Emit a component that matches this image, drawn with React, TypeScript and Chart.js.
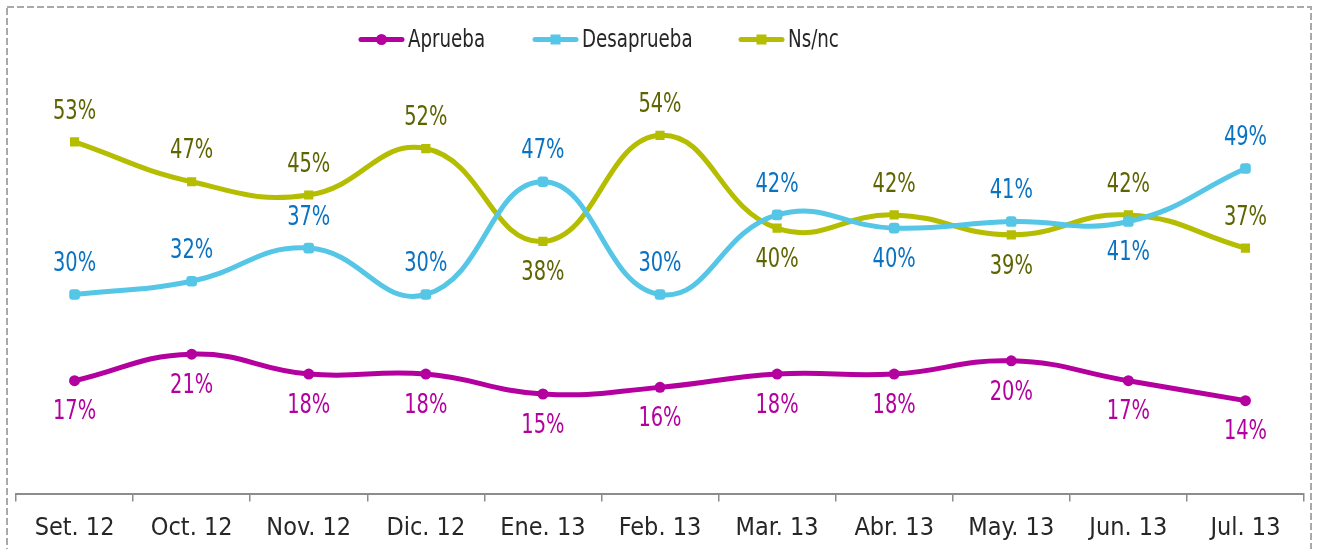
import React, { useEffect, useRef } from "react";
import { Chart, registerables } from "chart.js";

Chart.register(...registerables);

const categories = ["Set. 12", "Oct. 12", "Nov. 12", "Dic. 12", "Ene. 13", "Feb. 13", "Mar. 13", "Abr. 13", "May. 13", "Jun. 13", "Jul. 13"];
const aprueba = [17, 21, 18, 18, 15, 16, 18, 18, 20, 17, 14];
const desaprueba = [30, 32, 37, 30, 47, 30, 42, 40, 41, 41, 49];
const nsnc = [53, 47, 45, 52, 38, 54, 40, 42, 39, 42, 37];
const apruebaLabelPos = ["below", "below", "below", "below", "below", "below", "below", "below", "below", "below", "below"];
const desapruebaLabelPos = ["above", "above", "above", "above", "above", "above", "above", "below", "above", "below", "above"];
const nsncLabelPos = ["above", "above", "above", "above", "below", "above", "below", "above", "below", "above", "above"];
const seriesNames = ["Aprueba", "Desaprueba", "Ns/nc"];

const lineColors = ["#B3009E", "#55C6E6", "#B5BD00"];
const labelColors = ["#B3009E", "#0A72C2", "#5E6400"];
const pointStyles = ["circle", "rectRounded", "rect"];
const pointRadii = [5.5, 6.2, 6.5];
const labelPositions = [apruebaLabelPos, desapruebaLabelPos, nsncLabelPos];

const COND = "'DejaVu Sans Condensed', 'DejaVu Sans', sans-serif";

function narrowText(ctx: any, text: string, x: number, y: number, align: string, sx: number) {
  ctx.save();
  ctx.translate(x, y);
  ctx.scale(sx, 1);
  ctx.textAlign = align;
  ctx.fillText(text, 0, 0);
  ctx.restore();
}

const borderPlugin = {
  id: "dashedBorder",
  beforeDraw(chart: any) {
    const ctx = chart.ctx;
    ctx.save();
    ctx.fillStyle = "#ffffff";
    ctx.fillRect(0, 0, chart.width, chart.height);
    ctx.strokeStyle = "#A9A9A9";
    ctx.lineWidth = 2;
    ctx.setLineDash([7, 3]);
    ctx.strokeRect(7, 7, 1304, 560);
    ctx.restore();
  },
};

const legendPlugin = {
  id: "lineLegend",
  afterDraw(chart: any) {
    const ctx = chart.ctx;
    const starts = [359, 533, 739];
    const y = 39.5;
    ctx.save();
    chart.data.datasets.forEach((ds: any, i: number) => {
      const x0 = starts[i];
      ctx.strokeStyle = ds.borderColor;
      ctx.lineWidth = 5;
      ctx.lineCap = "round";
      ctx.setLineDash([]);
      ctx.beginPath();
      ctx.moveTo(x0 + 2, y);
      ctx.lineTo(x0 + 43, y);
      ctx.stroke();
      ctx.fillStyle = ds.borderColor;
      ctx.beginPath();
      if (i === 0) {
        ctx.arc(x0 + 22.5, y, 5.5, 0, Math.PI * 2);
      } else {
        ctx.rect(x0 + 22.5 - 5, y - 5, 10, 10);
      }
      ctx.fill();
      ctx.fillStyle = "#262626";
      ctx.font = `24px ${COND}`;
      ctx.textBaseline = "middle";
      narrowText(ctx, ds.label, x0 + 49, y + 1, "left", 0.845);
    });
    ctx.restore();
  },
};

const dataLabelPlugin = {
  id: "valueLabels",
  afterDatasetsDraw(chart: any) {
    const ctx = chart.ctx;
    ctx.save();
    ctx.font = `26px ${COND}`;
    ctx.textBaseline = "middle";
    chart.data.datasets.forEach((ds: any, i: number) => {
      const meta = chart.getDatasetMeta(i);
      meta.data.forEach((pt: any, j: number) => {
        const pos = labelPositions[i][j];
        const dy = pos === "above" ? -30 : 32;
        ctx.fillStyle = labelColors[i];
        narrowText(ctx, `${ds.data[j]}%`, pt.x, pt.y + dy, "center", 0.83);
      });
    });
    ctx.restore();
  },
};

export default function App() {
  const ref = useRef<HTMLCanvasElement | null>(null);
  useEffect(() => {
    if (!ref.current) return;
    const series = [aprueba, desaprueba, nsnc];
    const chart = new Chart(ref.current, {
      type: "line",
      data: {
        labels: categories,
        datasets: series.map((d, i) => ({
          label: seriesNames[i],
          data: d,
          borderColor: lineColors[i],
          backgroundColor: lineColors[i],
          borderWidth: 5,
          tension: 0.45,
          pointStyle: pointStyles[i] as any,
          pointRadius: pointRadii[i],
          pointBorderWidth: 0,
          pointBackgroundColor: lineColors[i],
          fill: false,
        })),
      },
      options: {
        responsive: false,
        animation: false,
        layout: { padding: { left: 16, right: 14, top: 95.5, bottom: 0 } },
        plugins: {
          legend: { display: false },
          tooltip: { enabled: false },
        },
        scales: {
          x: {
            type: "category",
            offset: true,
            afterFit: (s: any) => {
              s.height = 55.5;
            },
            grid: {
              offset: true,
              drawOnChartArea: false,
              drawTicks: true,
              tickLength: 8,
              color: "#8C8C8C",
              lineWidth: 1.5,
            },
            border: { display: true, color: "#8C8C8C", width: 2 },
            ticks: {
              color: "#262626",
              font: { size: 25, family: COND },
              padding: 12,
              maxRotation: 0,
              autoSkip: false,
            },
          },
          y: {
            display: false,
            min: 0,
            max: 60,
          },
        },
      },
      plugins: [borderPlugin, legendPlugin, dataLabelPlugin],
    });
    return () => chart.destroy();
  }, []);
  return (
    <div style={{ position: "absolute", left: 0, top: 0, width: 1318, height: 549 }}>
      <canvas ref={ref} width={1318} height={549} style={{ display: "block", width: 1318, height: 549 }} />
    </div>
  );
}
